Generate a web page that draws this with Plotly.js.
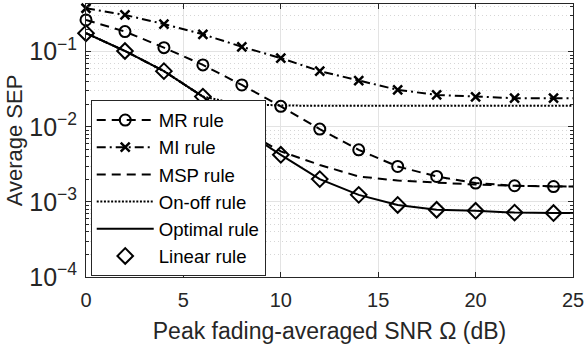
<!DOCTYPE html>
<html>
<head>
<meta charset="utf-8">
<script src="https://cdn.plot.ly/plotly-3.0.1.min.js"></script>
<style>html,body{margin:0;padding:0;background:#fff;}#chart{width:585px;height:349px;}</style>
</head>
<body>
<div id="chart"></div>
<script>
// SNR grid (dB); last point is the right edge of the axis
const snr = [0, 2, 4, 6, 8, 10, 12, 14, 16, 18, 20, 22, 24, 25];
const mrRule = [0.264, 0.185, 0.113, 0.0666, 0.036, 0.0187, 0.0093, 0.00493, 0.00296, 0.00218, 0.00178, 0.00164, 0.0016, 0.0016];
const miRule = [0.378, 0.308, 0.233, 0.170, 0.116, 0.082, 0.055, 0.041, 0.031, 0.0265, 0.025, 0.024, 0.024, 0.024];
const mspRule = [0.176, 0.102, 0.055, 0.0252, 0.0092, 0.0047, 0.0031, 0.00218, 0.00192, 0.0018, 0.0017, 0.00164, 0.0016, 0.0016];
const optimalRule = [0.176, 0.102, 0.055, 0.0252, 0.0092, 0.00423, 0.00201, 0.00124, 0.00091, 0.000785, 0.00076, 0.00072, 0.00071, 0.00071];
const linearRule = [0.176, 0.102, 0.055, 0.0252, 0.0092, 0.00423, 0.00201, 0.00124, 0.00091, 0.000785, 0.00076, 0.00072, 0.00071];
const snrOnOff = [0, 2, 4, 6, 7, 8, 9, 10, 12, 14, 16, 18, 20, 22, 24, 25];
const onOffRule = [0.176, 0.102, 0.055, 0.0252, 0.0222, 0.0205, 0.0196, 0.0192, 0.019, 0.019, 0.019, 0.019, 0.019, 0.019, 0.019, 0.019];
const names = ['MR rule', 'MI rule', 'MSP rule', 'On-off rule', 'Optimal rule', 'Linear rule'];

const nMarks = 13; // markers at 0,2,...,24
const K = '#000000';
const LW = 2;
const DASH = '9px,6px';
const DASHDOT = '9px,4px,2px,4px';
const DOT = '2px,1.6px';

const traces = [
  {x: snr.slice(0, nMarks), y: mrRule.slice(0, nMarks), name: names[0], mode: 'lines+markers', cliponaxis: false,
   line: {color: K, width: LW, dash: DASH}, marker: {symbol: 'circle-open', size: 11, color: K, line: {width: 2, color: K}}},
  {x: snr.slice(nMarks - 1), y: mrRule.slice(nMarks - 1), mode: 'lines', showlegend: false, hoverinfo: 'skip',
   line: {color: K, width: LW, dash: DASH}},
  {x: snr.slice(0, nMarks), y: miRule.slice(0, nMarks), name: names[1], mode: 'lines+markers', cliponaxis: false,
   line: {color: K, width: LW, dash: DASHDOT}, marker: {symbol: 'x-thin-open', size: 9, color: K, line: {width: 2.5, color: K}}},
  {x: snr.slice(nMarks - 1), y: miRule.slice(nMarks - 1), mode: 'lines', showlegend: false, hoverinfo: 'skip',
   line: {color: K, width: LW, dash: DASHDOT}},
  {x: snr, y: mspRule, name: names[2], mode: 'lines', line: {color: K, width: LW, dash: DASH}},
  {x: snrOnOff, y: onOffRule, name: names[3], mode: 'lines', line: {color: K, width: LW, dash: DOT}},
  {x: snr, y: optimalRule, name: names[4], mode: 'lines', line: {color: K, width: LW}},
  {x: snr.slice(0, nMarks), y: linearRule, name: names[5], mode: 'markers', cliponaxis: false,
   marker: {symbol: 'diamond-open', size: 12, color: K, line: {width: 2, color: K}}}
];

const axisColor = '#262626';
const layout = {
  width: 585, height: 349,
  margin: {l: 86, r: 12, t: 4, b: 72},
  paper_bgcolor: '#fff', plot_bgcolor: '#fff',
  font: {family: 'Liberation Sans, Arial, sans-serif', color: axisColor},
  showlegend: true,
  legend: {x: 0.0097, y: 0.002, xanchor: 'left', yanchor: 'bottom', bgcolor: '#fff',
    bordercolor: axisColor, borderwidth: 1, font: {size: 18.6, color: '#000'}, tracegroupgap: 0,
    itemwidth: 57},
  xaxis: {range: [0, 25], dtick: 5, tick0: 0, ticks: 'inside', ticklen: 5, tickcolor: axisColor,
    showline: true, linecolor: axisColor, linewidth: 1, mirror: 'ticks',
    showgrid: true, gridcolor: '#e3e3e3', gridwidth: 1, zeroline: false,
    tickfont: {size: 20, color: axisColor}, ticklabelstandoff: 5,
    title: {text: 'Peak fading-averaged SNR Ω (dB)', font: {size: 23, color: axisColor}, standoff: 12}},
  yaxis: {type: 'log', range: [-4, -0.366], dtick: 1, exponentformat: 'power',
    ticks: 'inside', ticklen: 5, tickcolor: axisColor,
    showline: true, linecolor: axisColor, linewidth: 1, mirror: 'ticks',
    showgrid: true, gridcolor: '#e3e3e3', gridwidth: 1, zeroline: false,
    tickfont: {size: 20, color: axisColor}, ticklabelstandoff: 4,
    minor: {dtick: 'D1', ticks: 'inside', ticklen: 3, tickcolor: axisColor, showgrid: true, gridcolor: '#d6d6d6', griddash: '1px,3px', gridwidth: 1},
    title: {text: 'Average SEP', font: {size: 22, color: axisColor}, standoff: 0}}
};

Plotly.newPlot('chart', traces, layout, {displayModeBar: false, staticPlot: true});
</script>
</body>
</html>
